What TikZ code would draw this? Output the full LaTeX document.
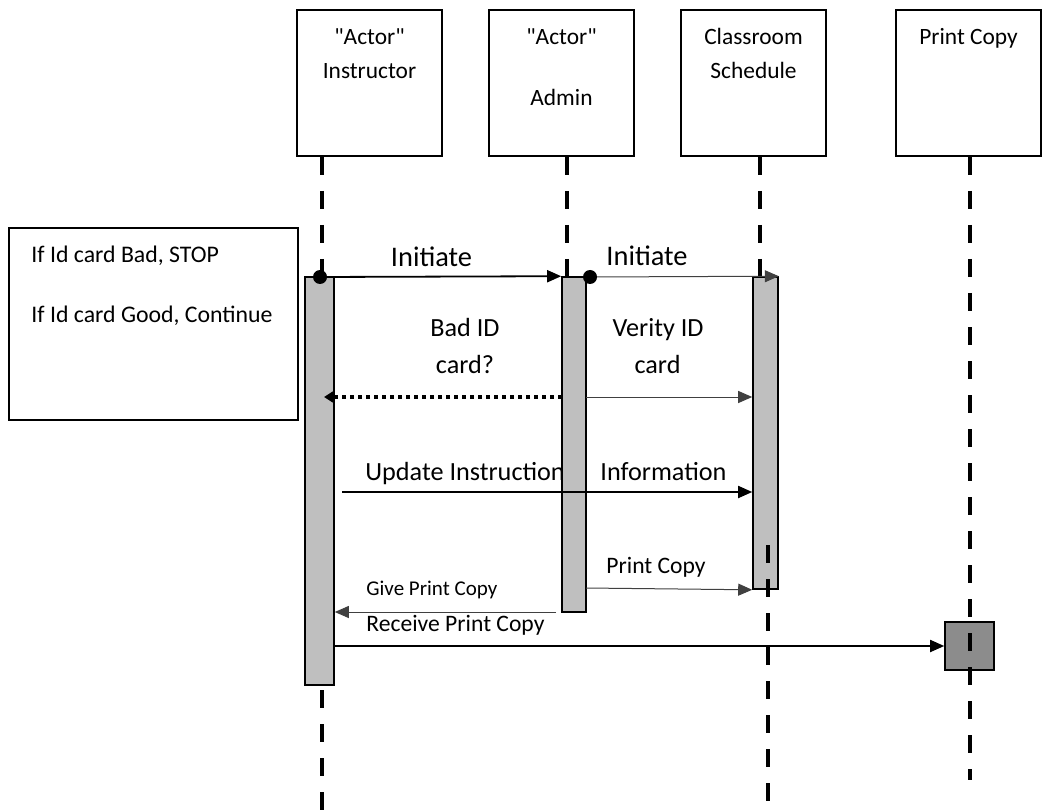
\documentclass[tikz,border=0pt]{standalone}
\usepackage{fontspec}
\newfontfamily\diafont{Carlito}
\usetikzlibrary{arrows.meta,positioning,calc}
\tikzset{
  actor/.style={draw, line width=1pt, fill=white, minimum width=72.5pt, minimum height=73pt, inner sep=0pt},
  actlbl/.style={font=\diafont\fontsize{11.7}{17}\selectfont, align=center, inner sep=0pt, anchor=north},
  note/.style={draw, line width=1pt, fill=white, minimum width=144.5pt, minimum height=96pt, inner sep=0pt},
  notelbl/.style={font=\diafont\fontsize{11.9}{15}\selectfont, anchor=base west, inner sep=0pt},
  actbar/.style={draw, line width=0.8pt, fill=black!25, inner sep=0pt},
  prbox/.style={draw, line width=0.8pt, fill=black!45, inner sep=0pt, minimum width=24.5pt, minimum height=24pt},
  life/.style={line width=2.3pt, dash pattern=on 9pt off 8pt},
  msg/.style={-{Triangle[length=7pt,width=6pt]}, line width=0.9pt},
  thinmsg/.style={-{Triangle[length=7pt,width=6pt]}, line width=0.5pt, draw=black!75},
  retmsg/.style={-{Triangle[length=5pt,width=6pt]}, line width=1.8pt, dash pattern=on 2pt off 2pt},
  biglbl/.style={font=\diafont\fontsize{14.2}{17}\selectfont, inner sep=0pt, anchor=base},
  msglbl/.style={font=\diafont\fontsize{13.1}{17}\selectfont, inner sep=0pt, anchor=base},
  smlbl/.style={font=\diafont\fontsize{11.8}{15}\selectfont, inner sep=0pt, anchor=base west},
  tinylbl/.style={font=\diafont\fontsize{10.5}{13}\selectfont, inner sep=0pt, anchor=base west},
  dotnode/.style={circle, fill=black, inner sep=0pt, minimum size=7pt}
}

\begin{document}
\begin{tikzpicture}[x=0.5pt, y=-0.5pt]
  \useasboundingbox (0,0) rectangle (1042,812);

  % objects on top
  \node[actor] (inst) at (369.5,83) {};
  \node[actor] (admin) at (561.5,83) {};
  \node[actor] (sched) at (753.5,83) {};
  \node[actor] (print) at (968.5,83) {};
  \node[actlbl] (instlbl) at (369.5,28) {"Actor"\\Instructor};
  \node[actlbl] (adminlbl) at (561.5,28) {"Actor"\\[13.5pt]Admin};
  \node[actlbl] (schedlbl) at (753.5,28) {Classroom\\Schedule};
  \node[actlbl] (printlbl) at (968.5,28) {Print Copy};

  % note on the left
  \node[note] (cond) at (153.5,324) {};
  \node[notelbl] (cond1) at (31,263) {If Id card Bad, STOP};
  \node[notelbl] (cond2) at (31,322) {If Id card Good, Continue};

  % activation bars
  \node[actbar, minimum width=14.5pt, minimum height=204pt] (bar1) at (319.5,481) {};
  \node[actbar, minimum width=12pt, minimum height=167.5pt] (bar2) at (574,444.5) {};
  \node[actbar, minimum width=12.5pt, minimum height=156pt] (bar3) at (765.5,433) {};

  % lifelines
  \coordinate (top1) at (322,157);
  \coordinate (top2) at (567,157);
  \coordinate (top3) at (760,157);
  \coordinate (top4) at (970,157);
  \coordinate (low1) at (322,690);
  \coordinate (end1) at (322,812);
  \coordinate (low3) at (768,545);
  \coordinate (end3) at (768,802);
  \coordinate (end4) at (970,780);
  \draw[life] (top1) -- (top1 |- bar1.north);
  \draw[life] (top2) -- (top2 |- bar2.north);
  \draw[life] (top3) -- (top3 |- bar3.north);
  \draw[life] (low1) -- (end1);

  % message labels
  \node[biglbl] (ini1) at (431.5,267) {Initiate};
  \node[biglbl] (ini2) at (647,266) {Initiate};
  \node[msglbl] (bad1) at (465,336) {Bad ID};
  \node[msglbl] (bad2) at (465,373) {card?};
  \node[msglbl] (ver1) at (658,336) {Verity ID};
  \node[msglbl] (ver2) at (657.5,373) {card};
  \node[msglbl, anchor=base west] (upd1) at (365,480) {Update Instruction};
  \node[msglbl, anchor=base west] (upd2) at (600,480) {Information};
  \node[smlbl] (prt) at (606,573) {Print Copy};
  \node[tinylbl] (give) at (366,595) {Give Print Copy};
  \node[smlbl] (recv) at (366,631) {Receive Print Copy};

  % bar over the cut label
  \node[actbar, minimum width=12pt, minimum height=167.5pt] (bar2b) at (574,444.5) {};

  % messages
  \coordinate (s1) at (320,277);
  \coordinate (s2) at (590,277);
  \coordinate (r1) at (562,397);
  \coordinate (r2) at (324,397);
  \coordinate (v1) at (586,397);
  \coordinate (u1) at (342,492);
  \coordinate (p1) at (586,588);
  \coordinate (g1) at (556,612);
  \coordinate (c1) at (334,646);
  \draw[msg] (s1) -- (bar2.north west);
  \draw[thinmsg] (s2) -- (bar3.north east);
  \draw[retmsg] (r1) -- (r2);
  \draw[thinmsg] (v1) -- (bar3.west |- v1);
  \draw[msg] (u1) -- (bar3.west |- u1);
  \draw[thinmsg] (p1) -- (bar3.south west);
  \draw[thinmsg] (g1) -- (bar1.east |- g1);
  \node[prbox] (copy) at (969.5,646) {};
  \draw[msg] (c1) -- (copy.west);
  \node[dotnode] (d1) at (s1) {};
  \node[dotnode] (d2) at (s2) {};

  % lifelines drawn over bars
  \draw[life] (low3) -- (end3);
  \draw[life] (top4) -- (end4);
\end{tikzpicture}
\end{document}
